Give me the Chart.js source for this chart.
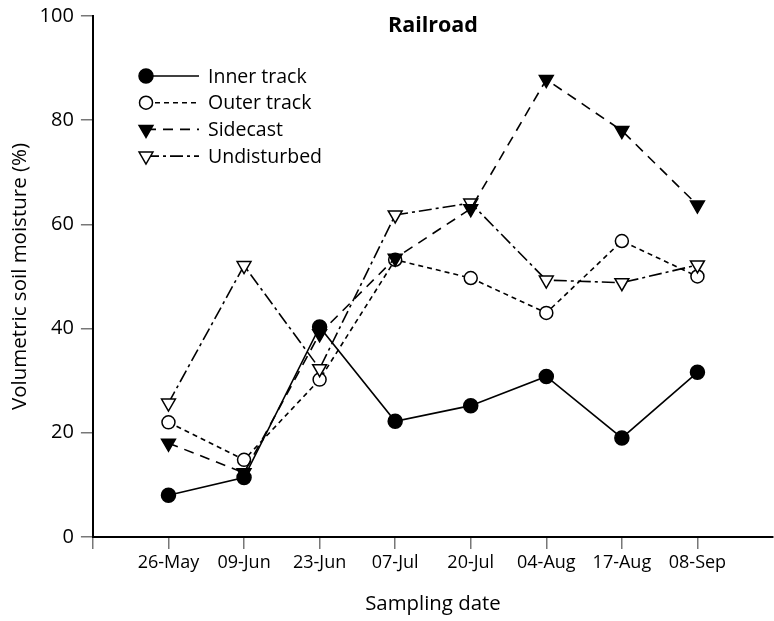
<!DOCTYPE html>
<html>
<head>
<meta charset="utf-8">
<script src="https://cdn.jsdelivr.net/npm/chart.js@4/dist/chart.umd.min.js"></script>
<style>
  html, body { margin: 0; padding: 0; background: #fff; }
</style>
</head>
<body>
<canvas id="chart" width="774" height="621"></canvas>
<script>
// sampling dates and soil moisture readings (%)
const dates = ["26-May", "09-Jun", "23-Jun", "07-Jul", "20-Jul", "04-Aug", "17-Aug", "08-Sep"];
const innerTrack = [8.0, 11.4, 40.3, 22.2, 25.2, 30.8, 19.0, 31.6];
const outerTrack = [22.0, 14.8, 30.2, 53.2, 49.7, 43.0, 56.8, 50.0];
const sidecast = [18.0, 12.3, 39.0, 53.5, 63.0, 87.8, 78.0, 63.7];
const undisturbed = [25.7, 52.1, 32.3, 61.8, 64.1, 49.3, 48.8, 52.2];
const yTicks = [0, 20, 40, 60, 80, 100];

const FONT = "'Open Sans', 'DejaVu Sans', sans-serif";
Chart.defaults.font.family = FONT;
Chart.defaults.color = "#000";

const toPoints = (arr) => arr.map((y, i) => ({ x: i, y: y }));

function drawMarker(ctx, ds, x, y) {
    const r = ds.pointRadius;
    ctx.save();
    ctx.setLineDash([]);
    ctx.lineWidth = ds.pointBorderWidth;
    ctx.strokeStyle = ds.pointBorderColor;
    ctx.fillStyle = ds.pointBackgroundColor;
    ctx.beginPath();
    if (ds.pointStyle === "triangle") {
        // pointing down, same geometry as chart.js rotated triangle
        ctx.moveTo(x, y + r);
        ctx.lineTo(x - Math.sin(Math.PI / 3) * r, y - r / 2);
        ctx.lineTo(x + Math.sin(Math.PI / 3) * r, y - r / 2);
        ctx.closePath();
    } else {
        ctx.arc(x, y, r, 0, Math.PI * 2);
    }
    ctx.fill();
    ctx.stroke();
    ctx.restore();
}

const legendAndTitle = {
    id: "legendAndTitle",
    afterDraw(chart) {
        const ctx = chart.ctx;
        const area = chart.chartArea;

        ctx.save();
        ctx.fillStyle = "#000";
        ctx.font = "bold 21.5px " + FONT;
        ctx.textAlign = "center";
        ctx.textBaseline = "middle";
        ctx.fillText("Railroad", (area.left + area.right) / 2, 26);

        const x0 = 146, x1 = 199, top = 76, step = 26.7;
        ctx.font = "19.5px " + FONT;
        ctx.textAlign = "left";
        chart.data.datasets.forEach((ds, i) => {
            const y = top + i * step;
            ctx.save();
            ctx.strokeStyle = ds.borderColor;
            ctx.lineWidth = ds.borderWidth;
            ctx.setLineDash(ds.borderDash || []);
            ctx.beginPath();
            ctx.moveTo(x0, y);
            ctx.lineTo(x1, y);
            ctx.stroke();
            ctx.restore();
            drawMarker(ctx, ds, x0, y);
            ctx.fillText(ds.label, 208, y + 1);
        });
        ctx.restore();
    }
};

function series(label, values, opts) {
    return Object.assign({
        label: label,
        data: toPoints(values),
        borderColor: "#000",
        borderWidth: 1.6,
        pointBorderColor: "#000",
        pointBorderWidth: 1.5,
        pointHoverRadius: 7,
        tension: 0,
        fill: false
    }, opts);
}

new Chart(document.getElementById("chart"), {
    type: "line",
    data: {
        datasets: [
            series("Inner track", innerTrack, {
                pointStyle: "circle", pointRadius: 7,
                pointBackgroundColor: "#000", borderDash: [], order: 0
            }),
            series("Outer track", outerTrack, {
                pointStyle: "circle", pointRadius: 6.5,
                pointBackgroundColor: "#fff", borderDash: [5, 4], order: 3
            }),
            series("Sidecast", sidecast, {
                pointStyle: "triangle", pointRadius: 8, pointRotation: 180,
                pointBackgroundColor: "#000", borderDash: [10, 7], order: 1
            }),
            series("Undisturbed", undisturbed, {
                pointStyle: "triangle", pointRadius: 8, pointRotation: 180,
                pointBackgroundColor: "#fff", borderDash: [13, 4, 3, 4], order: 2
            })
        ]
    },
    options: {
        responsive: false,
        animation: false,
        devicePixelRatio: 1,
        layout: { autoPadding: false, padding: { left: 8, right: 1, top: 16, bottom: 5 } },
        plugins: {
            legend: { display: false },
            title: { display: false },
            tooltip: { enabled: false }
        },
        scales: {
            x: {
                type: "linear",
                min: -1,
                max: 8,
                afterBuildTicks: (scale) => {
                    // axis start tick plus one tick per sampling date
                    scale.ticks = [-1].concat(dates.map((d, i) => i)).map(v => ({ value: v }));
                },
                afterFit: (scale) => {
                    scale.paddingLeft = 0;
                    scale.paddingRight = 0;
                },
                ticks: {
                    autoSkip: false,
                    maxRotation: 0,
                    padding: 3,
                    font: { size: 18 },
                    callback: (v) => dates[v] !== undefined ? dates[v] : ""
                },
                grid: {
                    drawOnChartArea: false,
                    drawTicks: true,
                    tickLength: 12,
                    color: "#777",
                    lineWidth: 1.5
                },
                border: { display: true, color: "#000", width: 2 },
                title: {
                    display: true,
                    text: "Sampling date",
                    font: { size: 20.4 },
                    padding: { top: 15, bottom: 0 }
                }
            },
            y: {
                min: 0,
                max: 100,
                afterBuildTicks: (scale) => {
                    scale.ticks = yTicks.map(v => ({ value: v }));
                },
                afterFit: (scale) => {
                    scale.paddingTop = 0;
                    scale.paddingBottom = 0;
                },
                ticks: {
                    padding: 7,
                    font: { size: 20 }
                },
                grid: {
                    drawOnChartArea: false,
                    drawTicks: true,
                    tickLength: 12,
                    color: "#777",
                    lineWidth: 1.5
                },
                border: { display: true, color: "#000", width: 2 },
                title: {
                    display: true,
                    text: "Volumetric soil moisture (%)",
                    font: { size: 20.5 },
                    padding: { top: 0, bottom: 0 }
                }
            }
        }
    },
    plugins: [legendAndTitle]
});
</script>
</body>
</html>
